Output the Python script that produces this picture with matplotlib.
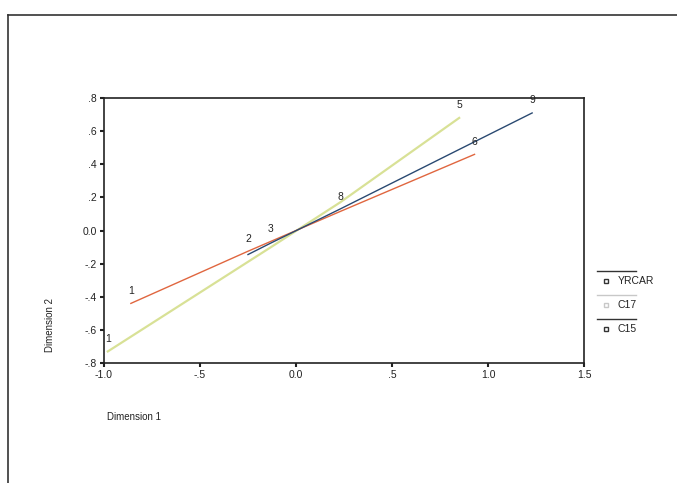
import matplotlib.pyplot as plt
from matplotlib.lines import Line2D

# category quantifications per variable (Dimension 1, Dimension 2, category label)
yrcar_x = [-0.25, -0.13, 0.23, 1.23]
yrcar_y = [-0.145, -0.075, 0.13, 0.71]
yrcar_lab = ['', '', '8', '9']

c17_x = [-0.98, -0.13, 0.23, 0.85]
c17_y = [-0.73, -0.10, 0.17, 0.68]
c17_lab = ['1', '', '', '5']

c15_x = [-0.86, -0.25, -0.13, 0.23, 0.93]
c15_y = [-0.44, -0.125, -0.065, 0.115, 0.46]
c15_lab = ['1', '2', '3', '', '6']

series_names = ['YRCAR', 'C17', 'C15']
line_colors = ['#2b4a72', '#d2dc84', '#e0663f']
legend_colors = ['#333333', '#c8c8c8', '#333333']

plt.rcParams['font.family'] = ['Liberation Sans', 'DejaVu Sans']

fig = plt.figure(figsize=(6.77, 4.83), dpi=100)
ax = fig.add_axes([0.1536, 0.2484, 0.709, 0.5486])

ax.plot(c17_x, c17_y, color=line_colors[1], lw=1.6, alpha=0.85)
ax.plot(c15_x, c15_y, color=line_colors[2], lw=1.0)
ax.plot(yrcar_x, yrcar_y, color=line_colors[0], lw=1.0)

for xs, ys, labs in [(c17_x, c17_y, c17_lab), (c15_x, c15_y, c15_lab), (yrcar_x, yrcar_y, yrcar_lab)]:
    for x, y, t in zip(xs, ys, labs):
        if t:
            ax.annotate(t, (x, y), xytext=(0, 9), textcoords='offset points',
                        ha='center', va='center', fontsize=7.5, color='#222222')

ax.set_xlim(-1.0, 1.5)
ax.set_ylim(-0.8, 0.8)
ax.set_xticks([-1.0, -0.5, 0.0, 0.5, 1.0, 1.5])
ax.set_xticklabels(['-1.0', '-.5', '0.0', '.5', '1.0', '1.5'])
ax.set_yticks([-0.8, -0.6, -0.4, -0.2, 0.0, 0.2, 0.4, 0.6, 0.8])
ax.set_yticklabels(['-.8', '-.6', '-.4', '-.2', '0.0', '.2', '.4', '.6', '.8'])
ax.tick_params(labelsize=7.5, length=3, width=1.5, pad=2, colors='#222222')
for s in ax.spines.values():
    s.set_linewidth(1.2)
    s.set_color('#222222')

fig.text(107 / 677, 1 - 417 / 483, 'Dimension 1', fontsize=7, ha='left', va='center', color='#222222')
fig.text(50 / 677, 1 - 325 / 483, 'Dimension 2', fontsize=7, rotation=90, ha='center', va='center', color='#222222')

# legend: line sample above, then marker and name
W, H = 677, 483
for i, name in enumerate(series_names):
    top = 271 + i * 24
    fig.add_artist(Line2D([597 / W, 636 / W], [1 - top / H, 1 - top / H], color=legend_colors[i], lw=1.0))
    fig.add_artist(Line2D([606 / W], [1 - (top + 10) / H], marker='s', markersize=3.5,
                          markerfacecolor='none', markeredgecolor=legend_colors[i], markeredgewidth=1.0))
    fig.text(618 / W, 1 - (top + 10) / H, name, fontsize=7.5, ha='left', va='center', color='#222222')

# outer frame
fig.add_artist(Line2D([8 / W, 1.0], [1 - 15 / H, 1 - 15 / H], color='#333333', lw=1.2))
fig.add_artist(Line2D([8 / W, 8 / W], [0.0, 1 - 15 / H], color='#333333', lw=1.2))

fig.savefig('out.png', dpi=100)
